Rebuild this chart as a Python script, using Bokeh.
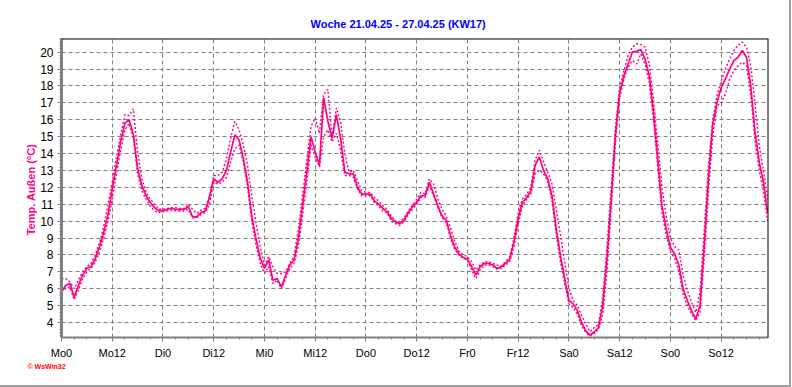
from bokeh.plotting import figure
from bokeh.models import FixedTicker, Span, Range1d, Div, Title
from bokeh.layouts import row, column
from bokeh.embed import file_html
from bokeh.resources import INLINE

# ---- data (hours since Monday 00:00) ----
hours = list(range(168))

temp = [5.8, 6.2, 6.3, 5.5, 6.2, 6.8, 7.2, 7.3, 7.8, 8.5, 9.35, 10.4, 11.9, 13.3, 14.7, 15.8, 16.0, 15.1, 13.1, 12.1,
        11.5, 11.1, 10.8, 10.6, 10.6, 10.7, 10.75, 10.7, 10.7, 10.7, 10.85, 10.25, 10.25, 10.5, 10.6, 11.4, 12.5, 12.3, 12.5, 13.0,
        14.1, 15.1, 14.8, 13.7, 12.3, 10.3, 8.95, 7.8, 7.2, 7.7, 6.5, 6.6, 6.1, 6.8, 7.4, 7.7, 8.95, 10.9, 12.9, 15.0,
        14.1, 13.3, 17.3, 15.9, 14.9, 16.3, 14.9, 12.9, 12.8, 12.8, 12.0, 11.6, 11.6, 11.6, 11.2, 11.0, 10.75, 10.55, 10.15, 9.95,
        9.85, 10.05, 10.5, 10.85, 11.1, 11.5, 11.5, 12.3, 11.6, 10.9, 10.3, 10.05, 9.15, 8.45, 8.05, 7.85, 7.75, 7.3, 6.8, 7.3,
        7.5, 7.5, 7.4, 7.2, 7.3, 7.5, 7.75, 8.75, 10.15, 11.1, 11.4, 11.8, 13.3, 13.8, 13.0, 12.5, 11.5, 9.55, 7.95, 6.6,
        5.3, 5.1, 4.7, 4.0, 3.5, 3.25, 3.45, 3.7, 5.0, 7.8, 11.3, 15.1, 17.6, 18.6, 19.3, 20.0, 20.05, 20.15, 19.6, 18.6,
        16.45, 13.7, 10.9, 9.55, 8.45, 8.05, 7.4, 6.0, 5.3, 4.7, 4.2, 5.0, 8.55, 12.5, 15.7, 17.0, 17.9, 18.4, 19.0, 19.5,
        19.7, 20.1, 19.7, 18.0, 15.3, 13.5, 12.3, 10.5]

temp_hi = [6.6, 6.6, 6.4, 6.0, 6.5, 7.0, 7.3, 7.5, 8.0, 8.7, 9.7, 11.0, 12.3, 13.8, 15.1, 16.3, 16.25, 16.65, 14.1, 12.5,
           11.7, 11.3, 11.0, 10.7, 10.7, 10.75, 10.8, 10.8, 10.75, 10.75, 11.0, 10.7, 10.45, 10.65, 10.75, 11.5, 12.7, 12.7, 12.9, 13.7,
           14.9, 15.9, 15.4, 14.5, 13.3, 11.5, 9.9, 8.5, 7.4, 7.9, 7.3, 6.9, 6.9, 7.0, 7.5, 7.9, 9.5, 11.5, 13.6, 15.6,
           16.1, 15.2, 17.5, 17.8, 14.9, 16.7, 15.9, 14.0, 12.9, 13.0, 12.4, 11.8, 11.7, 11.7, 11.4, 11.2, 10.9, 10.7, 10.3, 10.0,
           9.95, 10.2, 10.6, 10.95, 11.3, 11.7, 11.6, 12.5, 12.2, 11.3, 10.7, 10.3, 9.6, 8.8, 8.2, 8.0, 7.9, 7.6, 7.1, 7.4,
           7.6, 7.6, 7.5, 7.4, 7.35, 7.6, 7.9, 9.0, 10.5, 11.3, 11.6, 12.0, 13.6, 14.2, 13.5, 12.9, 12.2, 10.7, 9.2, 7.6,
           6.0, 5.3, 5.0, 4.4, 3.9, 3.45, 3.7, 3.9, 5.5, 8.5, 12.0, 15.5, 17.9, 18.9, 19.8, 20.3, 20.5, 20.45, 20.3, 19.3,
           17.2, 14.6, 12.0, 10.3, 9.0, 8.5, 8.3, 6.8, 5.9, 5.2, 4.6, 5.8, 9.5, 13.3, 16.0, 17.4, 18.3, 19.0, 19.6, 20.1,
           20.4, 20.6, 20.3, 19.2, 17.0, 14.5, 13.0, 11.3]

temp_lo = [5.8, 6.0, 6.1, 5.35, 5.9, 6.6, 7.0, 7.2, 7.6, 8.2, 9.0, 10.0, 11.3, 12.8, 14.2, 15.4, 15.8, 14.9, 12.8, 11.8,
           11.3, 10.9, 10.6, 10.5, 10.55, 10.6, 10.65, 10.6, 10.6, 10.6, 10.7, 10.2, 10.2, 10.4, 10.5, 11.0, 12.3, 12.2, 12.3, 12.6,
           13.5, 14.3, 14.5, 13.5, 12.0, 10.0, 8.6, 7.5, 6.9, 7.3, 6.3, 6.5, 6.0, 6.6, 7.2, 7.5, 8.5, 10.3, 12.3, 14.5,
           13.8, 13.2, 15.0, 15.4, 14.7, 15.2, 14.2, 12.7, 12.7, 12.6, 11.9, 11.5, 11.5, 11.5, 11.1, 10.9, 10.6, 10.5, 10.0, 9.85,
           9.75, 9.95, 10.4, 10.7, 11.0, 11.4, 11.4, 12.1, 11.5, 10.8, 10.2, 9.9, 9.0, 8.3, 8.0, 7.8, 7.7, 7.1, 6.6, 7.1,
           7.4, 7.4, 7.3, 7.15, 7.2, 7.4, 7.6, 8.5, 9.8, 10.9, 11.3, 11.6, 12.8, 13.0, 12.8, 12.3, 11.2, 9.2, 7.6, 6.3,
           5.1, 4.9, 4.5, 3.8, 3.4, 3.2, 3.35, 3.6, 4.5, 7.0, 10.7, 14.6, 17.3, 18.4, 19.1, 19.5, 19.3, 19.9, 19.3, 18.2,
           16.0, 13.2, 10.5, 9.2, 8.2, 7.8, 7.0, 5.7, 5.0, 4.5, 4.1, 4.6, 7.8, 11.8, 15.0, 16.8, 17.0, 17.5, 18.4, 18.9,
           19.2, 19.4, 19.2, 17.5, 14.8, 13.0, 11.8, 10.0]

x_ticks = [0, 12, 24, 36, 48, 60, 72, 84, 96, 108, 120, 132, 144, 156]
x_labels = ["Mo0", "Mo12", "Di0", "Di12", "Mi0", "Mi12", "Do0", "Do12", "Fr0", "Fr12", "Sa0", "Sa12", "So0", "So12"]
x_minor = list(range(0, 168, 3))
y_ticks = list(range(4, 21))
y_minor = [v / 5 for v in range(16, 105)]

title_text = "Woche 21.04.25 - 27.04.25 (KW17)"
y_label = "Temp. Außen  (°C)"
logo_text = "© WsWin32"

PINK = "#FF0080"
GRID = "#808080"
FONT = "Liberation Sans"

p = figure(width=789, height=385, frame_width=707, frame_height=299,
           min_border_left=61, min_border_right=21, min_border_top=38, min_border_bottom=48,
           x_range=Range1d(0, 167.2), y_range=Range1d(3.11, 20.81),
           output_backend="svg", toolbar_location=None)
p.outline_line_color = None
p.background_fill_color = "white"
p.border_fill_color = "white"

# grids
p.xgrid.ticker = FixedTicker(ticks=x_ticks)
p.ygrid.ticker = FixedTicker(ticks=y_ticks)
for g in (p.xgrid, p.ygrid):
    g.grid_line_color = GRID
    g.grid_line_dash = "4 3"
    g.grid_line_width = 1

# x axis
xa = p.xaxis[0]
xa.ticker = FixedTicker(ticks=x_ticks, minor_ticks=x_minor)
xa.major_label_overrides = {t: l for t, l in zip(x_ticks, x_labels)}
xa.axis_line_color = GRID
xa.axis_line_width = 2
xa.major_tick_line_color = GRID
xa.minor_tick_line_color = GRID
xa.major_tick_out = 4
xa.major_tick_in = 0
xa.minor_tick_out = 2
xa.minor_tick_in = 0
xa.major_label_standoff = 5
xa.major_label_text_font = FONT
xa.major_label_text_font_size = "11px"
xa.major_label_text_color = "black"

# y axis
ya = p.yaxis[0]
ya.ticker = FixedTicker(ticks=y_ticks, minor_ticks=y_minor)
ya.axis_line_color = GRID
ya.axis_line_width = 3
ya.major_tick_line_color = GRID
ya.minor_tick_line_color = GRID
ya.major_tick_out = 4
ya.major_tick_in = 0
ya.minor_tick_out = 2
ya.minor_tick_in = 0
ya.major_label_standoff = 4
ya.major_label_text_font = FONT
ya.major_label_text_font_size = "12px"
ya.major_label_text_color = "black"
ya.axis_label = y_label
ya.axis_label_text_color = PINK
ya.axis_label_text_font = FONT
ya.axis_label_text_font_size = "11px"
ya.axis_label_text_font_style = "bold"
ya.axis_label_standoff = 0

# top & right black frame lines
p.add_layout(Span(location=20.81, dimension="width", line_color="black", line_width=2))
p.add_layout(Span(location=167.2, dimension="height", line_color="black", line_width=2))

# series
p.line(hours, temp_hi, line_color=PINK, line_width=1.4, line_dash="2 2")
p.line(hours, temp_lo, line_color=PINK, line_width=1.4, line_dash="2 2")
p.line(hours, temp, line_color=PINK, line_width=1.7)

# title and logo
p.add_layout(Title(text=title_text, align="left", offset=249, standoff=18, vertical_align="bottom",
                   text_color="#0000FF", text_font=FONT, text_font_size="11px",
                   text_font_style="bold"), "above")
p.add_layout(Title(text=logo_text, align="left", offset=-34, standoff=3, vertical_align="top",
                   text_color="#FF0000", text_font=FONT, text_font_size="7px",
                   text_font_style="bold"), "below")

vbar = Div(text="", width=2, height=385, margin=0, styles={"background-color": "#a0a0a0"})
hbar = Div(text="", width=791, height=2, margin=0, styles={"background-color": "#a0a0a0"})
layout = column(row(p, vbar, spacing=0), hbar, spacing=0)

open("out.html", "w").write(file_html(layout, INLINE))
